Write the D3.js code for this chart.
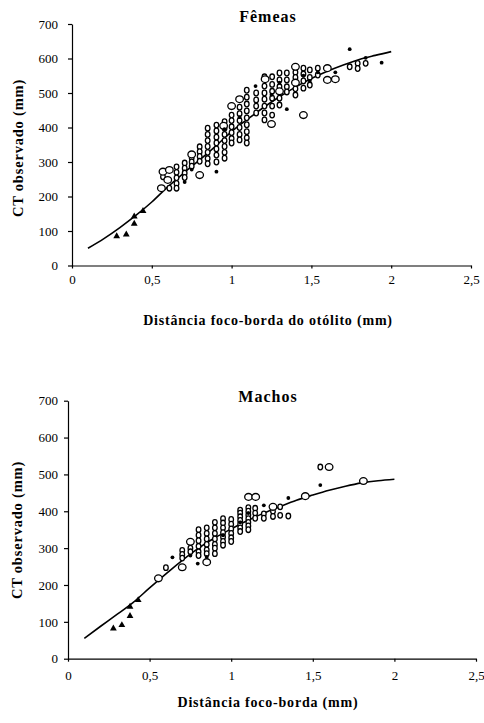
<!DOCTYPE html>
<html>
<head>
<meta charset="utf-8">
<script src="https://cdn.jsdelivr.net/npm/d3@7"></script>
<style>
  body { margin: 0; background: #fff; }
  svg { display: block; font-family: "Liberation Serif", "Times New Roman", serif; }
  .axis path, .axis line { stroke: #000; stroke-width: 1.2; }
  .axis text { font-family: "Liberation Serif", "Times New Roman", serif; font-size: 13px; fill: #000; }
</style>
</head>
<body>
<svg id="chart" width="484" height="723"></svg>
<script>
// tick values / labels shared by both panels
const xTicks = [0, 0.5, 1, 1.5, 2, 2.5];
const xTickLabels = ["0", "0,5", "1", "1,5", "2", "2,5"];
const yTicks = [0, 100, 200, 300, 400, 500, 600, 700];

// ---- Fêmeas ----
const femCurve = [
  [0.1, 50], [0.2, 78], [0.3, 110], [0.4, 145], [0.5, 184], [0.6, 228], [0.7, 268],
  [0.8, 306], [0.9, 346], [1.0, 388], [1.1, 424], [1.2, 458], [1.3, 489], [1.4, 517],
  [1.5, 542], [1.6, 563], [1.7, 581], [1.8, 597], [1.9, 609], [2.0, 620]
];
const femTriangles = [[0.28, 85], [0.34, 90], [0.39, 121], [0.39, 142], [0.445, 158]];
const femRings = [
  [0.57, 272], [0.56, 224], [0.61, 277], [0.60, 248], [0.80, 262], [0.75, 322],
  [1.00, 462], [1.05, 482], [1.25, 410], [1.21, 540], [1.40, 576], [1.60, 572],
  [1.60, 538], [1.65, 540], [1.45, 436], [0.95, 405], [1.40, 530], [1.30, 505]
];
const femCircles = [
  [0.57, 257], [0.61, 224], [0.655, 286], [0.655, 270], [0.655, 254], [0.655, 238], [0.655, 224],
  [0.706, 297], [0.706, 282], [0.706, 268], [0.706, 255],
  [0.75, 312], [0.75, 300], [0.75, 288], [0.8, 344], [0.8, 330], [0.8, 316], [0.8, 302],
  [0.85, 398], [0.85, 380], [0.85, 362], [0.85, 345], [0.85, 328], [0.85, 310], [0.85, 295],
  [0.905, 407], [0.905, 390], [0.905, 372], [0.905, 355], [0.905, 338], [0.905, 320], [0.905, 300],
  [0.956, 417], [0.956, 398], [0.956, 380], [0.956, 362], [0.956, 345], [0.956, 328], [0.956, 311],
  [1.0, 436], [1.0, 420], [1.0, 402], [1.0, 385], [1.0, 368], [1.0, 355],
  [1.05, 459], [1.05, 440], [1.05, 420], [1.05, 400], [1.05, 380], [1.05, 364],
  [1.095, 508], [1.095, 488], [1.095, 468], [1.095, 448], [1.095, 428], [1.095, 408], [1.095, 388], [1.095, 370], [1.095, 355],
  [1.154, 500], [1.154, 480], [1.154, 462], [1.154, 442],
  [1.206, 547], [1.206, 520], [1.206, 500], [1.206, 482], [1.206, 462], [1.206, 442], [1.206, 422],
  [1.254, 547], [1.254, 525], [1.254, 505], [1.254, 485], [1.254, 462], [1.254, 436],
  [1.30, 558], [1.30, 538], [1.30, 518], [1.30, 485], [1.30, 465],
  [1.346, 558], [1.346, 538], [1.346, 518], [1.346, 503],
  [1.40, 560], [1.40, 545], [1.40, 512], [1.40, 494],
  [1.45, 572], [1.45, 555], [1.45, 535], [1.45, 514],
  [1.49, 567], [1.49, 545], [1.49, 523], [1.54, 572], [1.54, 552],
  [1.74, 576], [1.79, 586], [1.79, 571], [1.84, 586]
];
const femDots = [
  [0.706, 242], [0.75, 278], [0.905, 272], [0.955, 395], [1.05, 430], [1.15, 520],
  [1.25, 495], [1.346, 453], [1.30, 530], [1.45, 550], [1.49, 535], [1.54, 560],
  [1.74, 627], [1.84, 602], [1.94, 588], [1.65, 560]
];

// ---- Machos ----
const macCurve = [
  [0.1, 55], [0.2, 88], [0.3, 120], [0.4, 153], [0.5, 192], [0.6, 230], [0.7, 267],
  [0.8, 300], [0.9, 328], [1.0, 352], [1.1, 375], [1.2, 395], [1.3, 413], [1.4, 430],
  [1.5, 444], [1.6, 457], [1.7, 468], [1.8, 477], [1.9, 483], [2.0, 487]
];
const macTriangles = [[0.278, 82], [0.33, 91], [0.38, 116], [0.38, 141], [0.43, 159]];
const macRings = [
  [0.554, 218], [0.70, 248], [0.75, 317], [1.106, 439], [1.15, 439], [1.256, 412],
  [1.454, 441], [1.60, 520], [1.81, 482], [0.85, 262]
];
const macCircles = [
  [0.60, 247], [0.70, 294], [0.70, 283], [0.70, 273], [0.75, 300], [0.75, 290],
  [0.8, 350], [0.8, 335], [0.8, 320], [0.8, 305], [0.8, 290], [0.8, 280],
  [0.85, 355], [0.85, 340], [0.85, 325], [0.85, 310], [0.85, 295], [0.85, 285],
  [0.90, 370], [0.90, 355], [0.90, 340], [0.90, 325], [0.90, 310], [0.90, 300], [0.90, 285],
  [0.95, 380], [0.95, 368], [0.95, 355], [0.95, 342], [0.95, 330], [0.95, 318], [0.95, 308],
  [1.0, 378], [1.0, 365], [1.0, 352], [1.0, 340], [1.0, 328], [1.0, 318],
  [1.055, 403], [1.055, 395], [1.055, 385], [1.055, 375], [1.055, 365], [1.055, 355], [1.055, 345],
  [1.105, 410], [1.105, 400], [1.105, 390], [1.105, 380], [1.105, 370], [1.105, 360], [1.105, 350],
  [1.147, 408], [1.147, 395], [1.147, 381], [1.2, 393], [1.2, 381],
  [1.256, 400], [1.256, 386], [1.30, 412], [1.30, 389], [1.35, 387], [1.546, 520]
];
const macDots = [
  [0.64, 275], [0.75, 280], [0.795, 258], [0.85, 276], [0.95, 335], [1.055, 370],
  [1.2, 416], [1.35, 436], [1.546, 471], [1.105, 395]
];

const svg = d3.select("#chart");

function drawPanel(p) {
  const x = d3.scaleLinear().domain([0, 2.5]).range([p.left, p.right]);
  const y = d3.scaleLinear().domain([0, 700]).range([p.bottom, p.top]);
  const g = svg.append("g");

  g.append("g")
    .attr("class", "axis")
    .attr("transform", `translate(0,${p.bottom})`)
    .call(d3.axisBottom(x).tickValues(xTicks).tickSizeInner(3).tickSizeOuter(0)
      .tickPadding(p.xPad).tickFormat((d, i) => xTickLabels[i]));

  g.append("g")
    .attr("class", "axis")
    .attr("transform", `translate(${p.left},0)`)
    .call(d3.axisLeft(y).tickValues(yTicks).tickSizeInner(4).tickSizeOuter(0)
      .tickPadding(p.yPad));

  // d3 puts sans-serif on the axis groups, drop it so the serif face is used
  g.selectAll(".axis").attr("font-family", null);

  // fitted curve
  g.append("path")
    .datum(p.curve)
    .attr("fill", "none")
    .attr("stroke", "#000")
    .attr("stroke-width", 1.6)
    .attr("d", d3.line().x(d => x(d[0])).y(d => y(d[1])).curve(d3.curveMonotoneX));

  g.selectAll(".circ")
    .data(p.circles)
    .join("ellipse")
      .attr("cx", d => x(d[0]))
      .attr("cy", d => y(d[1]))
      .attr("rx", 2.3)
      .attr("ry", 2.8)
      .attr("fill", "#fff")
      .attr("stroke", "#000")
      .attr("stroke-width", 1.3);

  g.selectAll(".ring")
    .data(p.rings)
    .join("ellipse")
      .attr("cx", d => x(d[0]))
      .attr("cy", d => y(d[1]))
      .attr("rx", 3.8)
      .attr("ry", 3.4)
      .attr("fill", "#fff")
      .attr("stroke", "#000")
      .attr("stroke-width", 1.3);

  g.selectAll(".dot")
    .data(p.dots)
    .join("circle")
      .attr("cx", d => x(d[0]))
      .attr("cy", d => y(d[1]))
      .attr("r", 1.9)
      .attr("fill", "#000");

  g.selectAll(".tri")
    .data(p.triangles)
    .join("path")
      .attr("transform", d => `translate(${x(d[0])},${y(d[1])})`)
      .attr("d", d3.symbol(d3.symbolTriangle, 20))
      .attr("fill", "#000");

  g.append("text")
    .attr("x", 268).attr("y", p.titleY)
    .attr("text-anchor", "middle")
    .attr("font-size", 16).attr("font-weight", "bold")
    .attr("letter-spacing", 1)
    .text(p.title);

  g.append("text")
    .attr("transform", `translate(${p.yLabelX},${p.yLabelY}) rotate(-90)`)
    .attr("text-anchor", "middle")
    .attr("font-size", 14.5).attr("font-weight", "bold")
    .attr("letter-spacing", 0.8)
    .text("CT observado (mm)");

  g.append("text")
    .attr("x", 268).attr("y", p.xLabelY)
    .attr("text-anchor", "middle")
    .attr("font-size", 14).attr("font-weight", "bold")
    .attr("letter-spacing", 0.8)
    .text(p.xLabel);
}

drawPanel({
  left: 72, right: 471, top: 24, bottom: 265.5,
  xPad: 6, yPad: 10,
  title: "Fêmeas", titleY: 22,
  xLabel: "Distância foco-borda do otólito (mm)", xLabelY: 325,
  yLabelX: 23, yLabelY: 148,
  curve: femCurve, circles: femCircles, rings: femRings, dots: femDots, triangles: femTriangles
});

drawPanel({
  left: 68, right: 476, top: 400.7, bottom: 658.7,
  xPad: 9, yPad: 6,
  title: "Machos", titleY: 402,
  xLabel: "Distância foco-borda (mm)", xLabelY: 707,
  yLabelX: 22, yLabelY: 530,
  curve: macCurve, circles: macCircles, rings: macRings, dots: macDots, triangles: macTriangles
});
</script>
</body>
</html>
